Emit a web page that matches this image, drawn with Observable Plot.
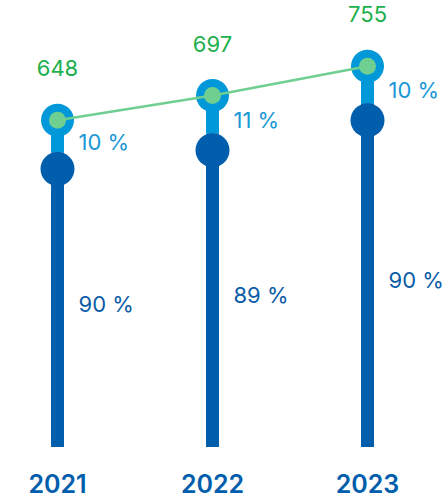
<!DOCTYPE html>
<html><head><meta charset="utf-8">
<style>body{margin:0;background:#fff;overflow:hidden}</style>
<script src="https://cdn.jsdelivr.net/npm/d3@7"></script>
<script src="https://cdn.jsdelivr.net/npm/@observablehq/plot@0.6"></script>
</head><body><div id="chart"></div>
<script>
const years = ["2021", "2022", "2023"];
const totals = [648, 697, 755];
const darkShares = [90, 89, 90];
const lightShares = [10, 11, 10];

const data = years.map((year, i) => ({
  year,
  total: totals[i],
  dark: totals[i] * darkShares[i] / 100,
  darkShare: darkShares[i],
  lightShare: lightShares[i]
}));

const DARK = "#005eac", LIGHT = "#0098d8", GREEN = "#6fcf90", GREEN_TEXT = "#1bb04c";
const LIGHT_TEXT = "#1a98d6", DARK_TEXT = "#0a5ca8";
const font = "Inter, 'Open Sans', sans-serif";

const chart = Plot.plot({
  width: 445, height: 502,
  marginTop: 43, marginBottom: 55, marginLeft: 56, marginRight: 78,
  x: {type: "point", domain: years, padding: 0, label: null},
  y: {domain: [0, 800], axis: null},
  style: {fontFamily: font, background: "white", overflow: "visible"},
  marks: [
    Plot.ruleX(data, {x: "year", y1: "dark", y2: "total", stroke: LIGHT, strokeWidth: 13}),
    Plot.ruleX(data, {x: "year", y1: 0, y2: "dark", stroke: DARK, strokeWidth: 13}),
    Plot.dot(data, {x: "year", y: "dark", r: 17, fill: DARK, dy: 16}),
    Plot.dot(data, {x: "year", y: "total", r: 16.5, fill: LIGHT}),
    Plot.line(data, {x: "year", y: "total", stroke: GREEN, strokeWidth: 2.5}),
    Plot.dot(data, {x: "year", y: "total", r: 8.5, fill: GREEN}),
    Plot.text(data, {x: "year", y: "total", text: d => String(d.total), dy: -51, fill: GREEN_TEXT, fontSize: 22}),
    Plot.text(data, {x: "year", y: d => (d.total + d.dark) / 2, text: d => `${d.lightShare} %`, dx: 21, dy: 6, textAnchor: "start", fill: LIGHT_TEXT, fontSize: 22}),
    Plot.text(data, {x: "year", y: d => d.dark / 2, text: d => `${d.darkShare} %`, dx: 21, dy: 5, textAnchor: "start", fill: DARK_TEXT, fontSize: 22}),
    Plot.axisX({tickSize: 0, tickPadding: 28, fontSize: 25, fontWeight: 600, color: DARK, style: {letterSpacing: "1.5px"}})
  ]
});
document.getElementById("chart").append(chart);
</script>
</body></html>
